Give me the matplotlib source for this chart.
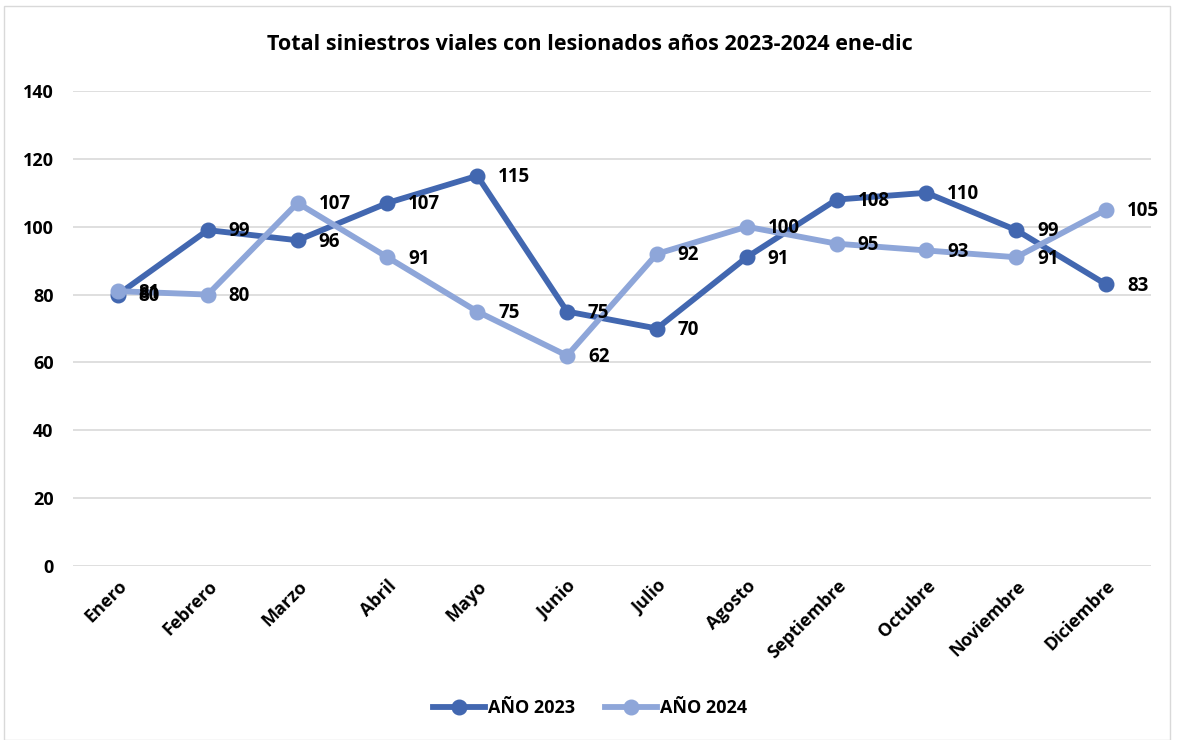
import matplotlib
matplotlib.use("Agg")
import matplotlib.pyplot as plt
from matplotlib.patches import Rectangle

months = ["Enero", "Febrero", "Marzo", "Abril", "Mayo", "Junio", "Julio",
          "Agosto", "Septiembre", "Octubre", "Noviembre", "Diciembre"]
y2023 = [80, 99, 96, 107, 115, 75, 70, 91, 108, 110, 99, 83]
y2024 = [81, 80, 107, 91, 75, 62, 92, 100, 95, 93, 91, 105]
yticks = [0, 20, 40, 60, 80, 100, 120, 140]
title = "Total siniestros viales con lesionados años 2023-2024 ene-dic"

c23 = "#4267B0"
c24 = "#8EA6D9"
plt.rcParams['font.family'] = ['Open Sans', 'DejaVu Sans']
FS = 13

fig = plt.figure(figsize=(11.8, 7.4), dpi=100)
ax = fig.add_axes([73/1180, 1 - 566/740, (1151-73)/1180, (566-91)/740])

x = list(range(len(months)))
ax.plot(x, y2023, color=c23, lw=4.2, marker='o', ms=10.5, label="AÑO 2023", zorder=3)
ax.plot(x, y2024, color=c24, lw=4.2, marker='o', ms=10.5, label="AÑO 2024", zorder=4)

for xi, v in zip(x, y2023):
    ax.annotate(str(v), (xi, v), xytext=(15, -1), textcoords='offset points',
                ha='left', va='center', fontsize=13.5, fontweight='bold', color='black', zorder=5)
for xi, v in zip(x, y2024):
    ax.annotate(str(v), (xi, v), xytext=(15, -1), textcoords='offset points',
                ha='left', va='center', fontsize=13.5, fontweight='bold', color='black', zorder=5)

ax.set_xlim(-0.5, 11.5)
ax.set_ylim(0, 140)
ax.set_yticks(yticks)
ax.set_yticklabels([str(t) for t in yticks], fontsize=FS, fontweight='bold')
ax.set_xticks(x)
ax.set_xticklabels(months, rotation=45, ha='right', rotation_mode='anchor',
                   fontsize=FS, fontweight='bold')
ax.tick_params(axis='y', length=0, pad=14)
ax.tick_params(axis='x', length=0, pad=8)
ax.grid(axis='y', color='#D9D9D9', lw=1.2)
ax.set_axisbelow(True)
for s in ax.spines.values():
    s.set_visible(False)

fig.text(0.5, 1 - 44/740, title, ha='center', va='center', fontsize=15.5, fontweight='bold')

leg = fig.legend(loc='center', bbox_to_anchor=(0.5, 1 - 708/740), ncol=2, frameon=False,
                 prop={'size': FS, 'weight': 'bold'}, handlelength=2.9, columnspacing=1.6,
                 handletextpad=0.2)

fig.patches.append(Rectangle((4/1180, 0.0), 1166/1180, 1 - 6/740, transform=fig.transFigure,
                             fill=False, edgecolor='#D9D9D9', lw=1))

fig.savefig("out.png", dpi=100)
